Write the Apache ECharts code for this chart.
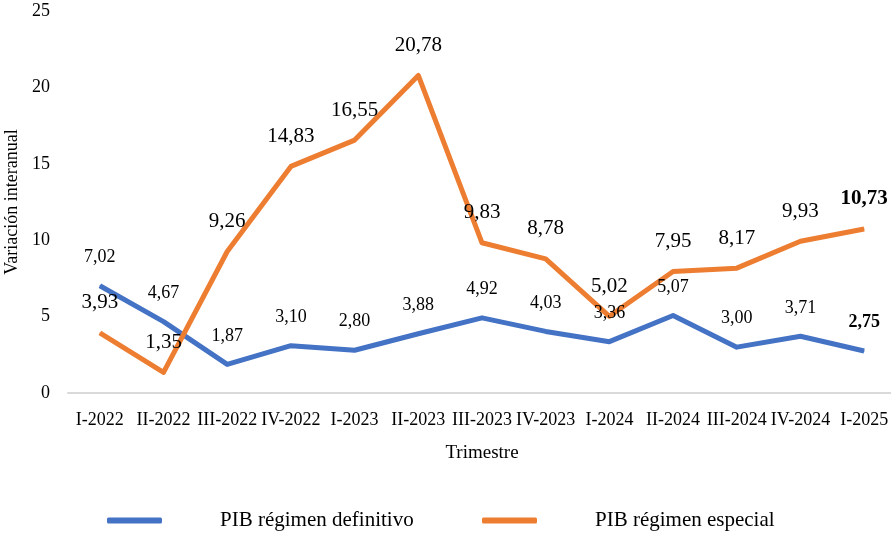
<!DOCTYPE html>
<html>
<head>
<meta charset="utf-8">
<script src="https://cdn.jsdelivr.net/npm/echarts@6/dist/echarts.min.js"></script>
<style>
html, body { margin: 0; padding: 0; background: #fff; }
#main { width: 891px; height: 533px; }
</style>
</head>
<body>
<div id="main"></div>
<script>
// trimestres
var trimestres = ['I-2022', 'II-2022', 'III-2022', 'IV-2022', 'I-2023', 'II-2023', 'III-2023',
    'IV-2023', 'I-2024', 'II-2024', 'III-2024', 'IV-2024', 'I-2025'];
// PIB régimen definitivo
var definitivo = [7.02, 4.67, 1.87, 3.10, 2.80, 3.88, 4.92, 4.03, 3.36, 5.07, 3.00, 3.71, 2.75];
// PIB régimen especial
var especial = [3.93, 1.35, 9.26, 14.83, 16.55, 20.78, 9.83, 8.78, 5.02, 7.95, 8.17, 9.93, 10.73];
var yTicks = [0, 5, 10, 15, 20, 25];

var fuente = '"Liberation Serif", "DejaVu Serif", serif';

function fmt(v) {
    return v.toFixed(2).replace('.', ',');
}

// el último punto va en negrita
function puntos(arr) {
    var out = [];
    for (var i = 0; i < arr.length; i++) {
        if (i == arr.length - 1) {
            out.push({ value: arr[i], label: { fontWeight: 'bold' } });
        } else {
            out.push(arr[i]);
        }
    }
    return out;
}

var chart = echarts.init(document.getElementById('main'));
var option = {
    animation: false,
    backgroundColor: '#fff',
    textStyle: { fontFamily: fuente, color: '#000' },
    grid: { left: 68, right: -5, top: 11, bottom: 140, containLabel: false, outerBoundsMode: 'none' },
    legend: [{
        left: 107, top: 510, padding: 0,
        itemWidth: 55, itemHeight: 6, icon: 'roundRect',
        textStyle: { fontFamily: fuente, fontSize: 21, color: '#000', padding: [0, 0, 0, 53] },
        data: ['PIB régimen definitivo']
    }, {
        left: 482, top: 510, padding: 0,
        itemWidth: 55, itemHeight: 6, icon: 'roundRect',
        textStyle: { fontFamily: fuente, fontSize: 21, color: '#000', padding: [0, 0, 0, 53] },
        data: ['PIB régimen especial']
    }],
    xAxis: {
        type: 'category',
        data: trimestres,
        boundaryGap: true,
        name: 'Trimestre',
        nameLocation: 'middle',
        nameGap: 51,
        nameTextStyle: { fontFamily: fuente, fontSize: 19, color: '#000' },
        axisLine: { lineStyle: { color: '#d9d9d9', width: 2 } },
        axisTick: { show: false },
        axisLabel: { interval: 0, margin: 18, fontFamily: fuente, fontSize: 18, color: '#000' }
    },
    yAxis: {
        type: 'value',
        min: yTicks[0],
        max: yTicks[yTicks.length - 1],
        interval: 5,
        name: 'Variación interanual',
        nameLocation: 'middle',
        nameGap: 44,
        nameTextStyle: { fontFamily: fuente, fontSize: 18, color: '#000' },
        axisLine: { show: false },
        axisTick: { show: false },
        splitLine: { show: false },
        axisLabel: { margin: 18, fontFamily: fuente, fontSize: 18, color: '#000' }
    },
    series: [{
        name: 'PIB régimen definitivo',
        type: 'line',
        data: puntos(definitivo),
        symbol: 'circle',
        symbolSize: 1,
        color: '#4472C4',
        lineStyle: { width: 5, color: '#4472C4', join: 'round' },
        label: {
            show: true, position: 'top', distance: 19,
            fontFamily: fuente, fontSize: 18, color: '#000',
            formatter: function(p) { return fmt(p.value); }
        }
    }, {
        name: 'PIB régimen especial',
        type: 'line',
        data: puntos(especial),
        symbol: 'circle',
        symbolSize: 1,
        color: '#ED7D31',
        lineStyle: { width: 5, color: '#ED7D31', join: 'round' },
        label: {
            show: true, position: 'top', distance: 19,
            fontFamily: fuente, fontSize: 21, color: '#000',
            formatter: function(p) { return fmt(p.value); }
        }
    }]
};
chart.setOption(option);
</script>
</body>
</html>
